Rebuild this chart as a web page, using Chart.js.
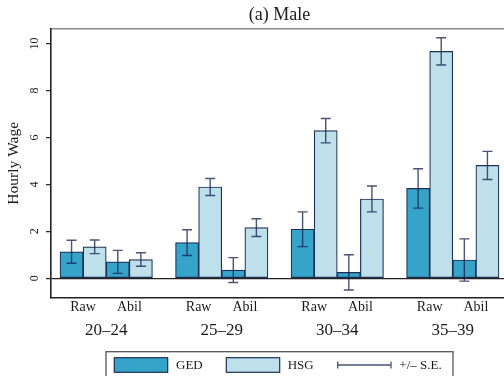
<!DOCTYPE html>
<html>
<head>
<meta charset="utf-8">
<script src="https://cdn.jsdelivr.net/npm/chart.js@4/dist/chart.umd.min.js"></script>
<style>
  html, body { margin: 0; padding: 0; overflow: hidden; background: #fff; }
  #wrap { width: 512px; height: 376px; position: relative; }
</style>
</head>
<body>
<div id="wrap"><canvas id="chart"></canvas></div>
<script>
// Age groups along the x axis and the two wage measures inside each group
const ageGroups = ['20–24', '25–29', '30–34', '35–39'];
const measures = ['Raw', 'Abil'];

// Wage gaps, ordered group by group: Raw then Abil
const gedValues = [1.13, 0.70, 1.52, 0.35, 2.09, 0.25, 3.83, 0.78];
const gedSE     = [0.49, 0.49, 0.55, 0.53, 0.74, 0.75, 0.84, 0.90];
const hsgValues = [1.34, 0.80, 3.89, 2.16, 6.29, 3.38, 9.67, 4.81];
const hsgSE     = [0.29, 0.29, 0.36, 0.38, 0.52, 0.55, 0.58, 0.60];

const yTicks = [0, 2, 4, 6, 8, 10];

// Each group holds 2 measures x 2 series, followed by one empty slot
const slotsPerGroup = measures.length * 2 + 1;
const slotCount = ageGroups.length * slotsPerGroup - 1;
const edgePad = 0.39;
const xMin = -0.5 - edgePad;
const xMax = slotCount - 0.5 + edgePad;

function slotOf(k, series) {
  const g = Math.floor(k / measures.length);
  const m = k % measures.length;
  return g * slotsPerGroup + m * 2 + series;
}

const SERIF = "'Liberation Serif', 'DejaVu Serif', serif";
const INK = '#1a1a1a';
const BAR_EDGE = '#1d2f55';
const ERR_COLOR = 'rgba(22, 36, 82, 0.78)';
const GED_FILL = '#36a3c9';
const HSG_FILL = '#bde0ea';

// Error bars of +/- one standard error on every bar
const errorBars = {
  id: 'errorBars',
  afterDatasetsDraw(chart) {
    const ctx = chart.ctx;
    const yScale = chart.scales.y;
    ctx.save();
    ctx.strokeStyle = ERR_COLOR;
    ctx.lineWidth = 1.4;
    chart.data.datasets.forEach((ds, i) => {
      const meta = chart.getDatasetMeta(i);
      meta.data.forEach((bar, j) => {
        const v = ds.data[j].y;
        const se = ds.errors[j];
        const x = bar.x;
        const yHi = yScale.getPixelForValue(v + se);
        const yLo = yScale.getPixelForValue(v - se);
        const cap = 5;
        ctx.beginPath();
        ctx.moveTo(x, yHi); ctx.lineTo(x, yLo);
        ctx.moveTo(x - cap, yHi); ctx.lineTo(x + cap, yHi);
        ctx.moveTo(x - cap, yLo); ctx.lineTo(x + cap, yLo);
        ctx.stroke();
      });
    });
    ctx.restore();
  }
};

// Boxed legend under the axis labels
const boxedLegend = {
  id: 'boxedLegend',
  afterDraw(chart) {
    const ctx = chart.ctx;
    const area = chart.chartArea;
    const w = 347;
    const left = (area.left + area.right) / 2 - w / 2;
    const top = 351.7;
    ctx.save();
    ctx.strokeStyle = '#555';
    ctx.lineWidth = 1.3;
    ctx.strokeRect(left, top, w, 40);

    const sy = top + 6, sh = 14.6, sw = 53.4;
    const mid = sy + sh / 2;
    ctx.font = '13px ' + SERIF;
    ctx.fillStyle = INK;
    ctx.textBaseline = 'middle';
    ctx.textAlign = 'left';
    const items = [
      { dx: 8.3, fill: GED_FILL, label: chart.data.datasets[0].label, tx: 70 },
      { dx: 120.3, fill: HSG_FILL, label: chart.data.datasets[1].label, tx: 181.7 }
    ];
    items.forEach(it => {
      ctx.fillStyle = it.fill;
      ctx.fillRect(left + it.dx, sy, sw, sh);
      ctx.strokeStyle = BAR_EDGE;
      ctx.lineWidth = 1.2;
      ctx.strokeRect(left + it.dx, sy, sw, sh);
      ctx.fillStyle = INK;
      ctx.fillText(it.label, left + it.tx, mid + 0.5);
    });
    // error bar key
    const ex0 = left + 231.7, ex1 = left + 285;
    ctx.strokeStyle = ERR_COLOR;
    ctx.lineWidth = 1.3;
    ctx.beginPath();
    ctx.moveTo(ex0, mid); ctx.lineTo(ex1, mid);
    ctx.moveTo(ex0, mid - 3.5); ctx.lineTo(ex0, mid + 3.5);
    ctx.moveTo(ex1, mid - 3.5); ctx.lineTo(ex1, mid + 3.5);
    ctx.stroke();
    ctx.fillStyle = INK;
    ctx.fillText('+/\u2013 S.E.', left + 293.3, mid + 0.5);
    ctx.restore();
  }
};

const measureTicks = [];
const ageTicks = [];
ageGroups.forEach((g, gi) => {
  measures.forEach((m, mi) => measureTicks.push({ value: gi * slotsPerGroup + mi * 2 + 0.5, label: m }));
  ageTicks.push({ value: gi * slotsPerGroup + (measures.length * 2 - 1) / 2, label: g });
});

new Chart(document.getElementById('chart'), {
  type: 'bar',
  data: {
    datasets: [
      {
        label: 'GED',
        data: gedValues.map((v, k) => ({ x: slotOf(k, 0), y: v })),
        errors: gedSE,
        backgroundColor: GED_FILL
      },
      {
        label: 'HSG',
        data: hsgValues.map((v, k) => ({ x: slotOf(k, 1), y: v })),
        errors: hsgSE,
        backgroundColor: HSG_FILL
      }
    ]
  },
  options: {
    responsive: true,
    maintainAspectRatio: false,
    animation: false,
    events: [],
    layout: { padding: { left: 0, right: 4, top: 0, bottom: 34 } },
    datasets: {
      bar: {
        grouped: false,
        categoryPercentage: 1,
        barPercentage: 1,
        borderColor: BAR_EDGE,
        borderWidth: 1.2,
        borderSkipped: false
      }
    },
    plugins: {
      legend: { display: false },
      tooltip: { enabled: false },
      title: {
        display: true,
        text: '(a) Male',
        fullSize: false,
        color: INK,
        font: { family: SERIF, size: 18, weight: 'normal' },
        padding: { top: 4, bottom: 3 }
      }
    },
    scales: {
      x: {
        type: 'linear',
        position: 'bottom',
        min: xMin,
        max: xMax,
        offset: false,
        weight: 0,
        grid: { display: false, drawTicks: false },
        border: { display: true, color: '#222', width: 1.6 },
        afterBuildTicks: s => { s.ticks = measureTicks.map(t => ({ value: t.value })); },
        ticks: {
          autoSkip: false,
          maxRotation: 0,
          padding: 1,
          color: INK,
          font: { family: SERIF, size: 14 },
          callback: (v, i) => measureTicks[i].label
        },
        afterFit: s => { s.height = 20; }
      },
      xAge: {
        type: 'linear',
        position: 'bottom',
        min: xMin,
        max: xMax,
        offset: false,
        weight: 1,
        grid: { display: false, drawTicks: false },
        border: { display: false },
        afterBuildTicks: s => { s.ticks = ageTicks.map(t => ({ value: t.value })); },
        ticks: {
          autoSkip: false,
          maxRotation: 0,
          padding: 2,
          color: INK,
          font: { family: SERIF, size: 17 },
          callback: (v, i) => ageTicks[i].label
        },
        afterFit: s => { s.height = 24; }
      },
      xTop: {
        type: 'linear',
        position: 'top',
        min: xMin,
        max: xMax,
        grid: { display: false, drawTicks: false },
        ticks: { display: false },
        border: { display: true, color: '#8a8a8a', width: 1.6 },
        afterFit: s => { s.height = 0; }
      },
      y: {
        type: 'linear',
        min: -0.84,
        max: 10.64,
        afterBuildTicks: s => { s.ticks = yTicks.map(v => ({ value: v })); },
        ticks: {
          includeBounds: false,
          minRotation: 90,
          maxRotation: 90,
          crossAlign: 'center',
          padding: 5,
          color: INK,
          font: { family: SERIF, size: 12 }
        },
        grid: {
          drawOnChartArea: true,
          drawTicks: true,
          tickLength: 5,
          tickColor: '#222',
          tickWidth: 1.2,
          lineWidth: 1.3,
          color: ctx => (ctx.tick && ctx.tick.value === 0 ? '#222' : 'rgba(0,0,0,0)')
        },
        border: { display: true, color: '#222', width: 1.6 },
        title: {
          display: true,
          text: 'Hourly Wage',
          color: INK,
          font: { family: SERIF, size: 15.5 },
          padding: { top: 4.7, bottom: 0 }
        },
        afterFit: s => { s.width = 51; }
      }
    }
  },
  plugins: [errorBars, boxedLegend]
});
</script>
</body>
</html>
